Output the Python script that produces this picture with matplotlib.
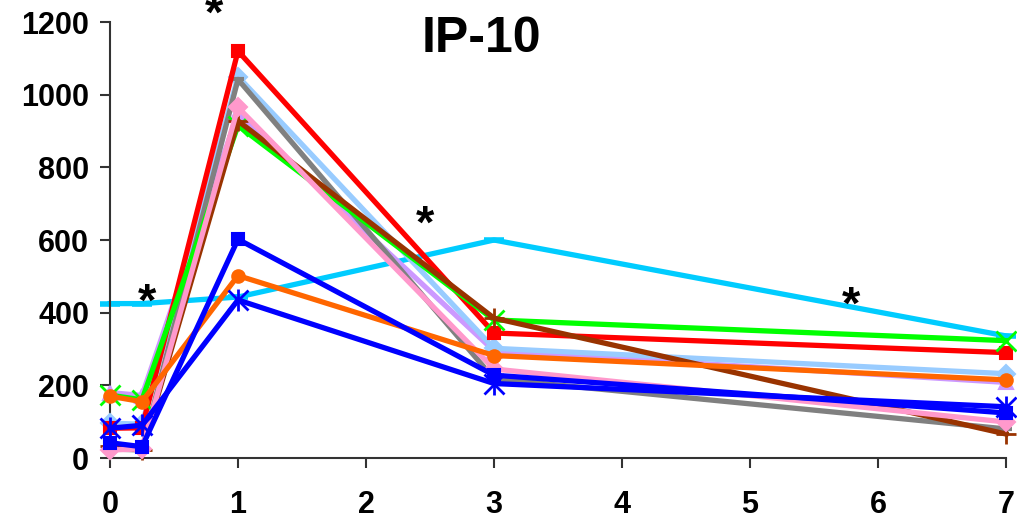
import matplotlib
matplotlib.use("Agg")
import matplotlib.pyplot as plt

plt.rcParams['font.family'] = ['Liberation Sans', 'DejaVu Sans']

days = [0, 0.25, 1, 3, 7]

cyan = [425, 425, 443, 600, 336]
lavender = [180, 172, 950, 295, 208]
light_blue = [96, 93, 1050, 302, 232]
gray = [25, 22, 1042, 218, 80]
red = [82, 83, 1120, 344, 290]
green = [173, 160, 915, 380, 323]
brown = [32, 22, 928, 385, 66]
pink = [22, 25, 965, 245, 99]
orange = [170, 155, 502, 282, 215]
blue_sq = [42, 31, 602, 228, 124]
blue_star = [82, 90, 435, 205, 141]

star_x = [0.8125, 0.289, 2.46, 5.79]
star_y = [1255, 462, 677, 454]

title = "IP-10"
xticks = [0, 1, 2, 3, 4, 5, 6, 7]
yticks = [0, 200, 400, 600, 800, 1000, 1200]

fig = plt.figure(figsize=(10.17, 5.23), dpi=100)
ax = fig.add_axes([110/1017, 65/523, 896/1017, 436/523])

lw = 3.8
common = dict(lw=lw, clip_on=False, markeredgewidth=1.5)

ax.plot(days, cyan, color='#00CCFF', marker='_', ms=14, mew=4, lw=lw, clip_on=False, zorder=2)
ax.plot(days, lavender, color='#CC99FF', marker='^', ms=10, zorder=3, **common)
ax.plot(days, light_blue, color='#99CCFF', marker='D', ms=9, zorder=4, **common)
ax.plot(days, gray, color='#808080', marker='_', ms=8, mew=3, lw=lw, clip_on=False, zorder=5)
ax.plot(days, red, color='#FF0000', marker='s', ms=9, zorder=6, **common)
ax.plot(days, green, color='#00FF00', marker='x', ms=14, mew=2, lw=lw, clip_on=False, zorder=7)
ax.plot(days, brown, color='#993300', marker='+', ms=14, mew=2, lw=lw, clip_on=False, zorder=8)
ax.plot(days, pink, color='#FF99CC', marker='D', ms=9, zorder=9, **common)
ax.plot(days, orange, color='#FF6600', marker='o', ms=9, zorder=10, **common)
ax.plot(days, blue_sq, color='#0000FF', marker='s', ms=9, zorder=11, **common)
ax.plot(days, blue_star, color='#0000FF', marker='x', ms=14, mew=2, lw=lw, clip_on=False, zorder=12)
ax.plot(days, blue_star, color='#0000FF', marker='|', ms=16, mew=2, ls='none', clip_on=False, zorder=12)

for sx, sy in zip(star_x, star_y):
    ax.annotate('*', xy=(sx, sy), xytext=(0, -26), textcoords='offset pixels',
                ha='center', va='baseline', fontsize=34, fontweight='bold',
                annotation_clip=False, zorder=20)

ax.text(2.9, 1217, title, ha='center', va='top', fontsize=36, fontweight='bold')

ax.set_xlim(0, 7)
ax.set_ylim(0, 1200)
ax.set_xticks(xticks)
ax.set_yticks(yticks)
for s in ['top', 'right']:
    ax.spines[s].set_visible(False)
for s in ['left', 'bottom']:
    ax.spines[s].set_color('#333333')
    ax.spines[s].set_linewidth(1.5)
ax.tick_params(axis='both', direction='out', length=7, width=1.5, color='#333333',
               labelsize=22)
ax.tick_params(axis='y', pad=8)
ax.tick_params(axis='x', pad=16)
for lbl in ax.get_xticklabels() + ax.get_yticklabels():
    lbl.set_fontweight('bold')

fig.savefig('out.png', dpi=100)
